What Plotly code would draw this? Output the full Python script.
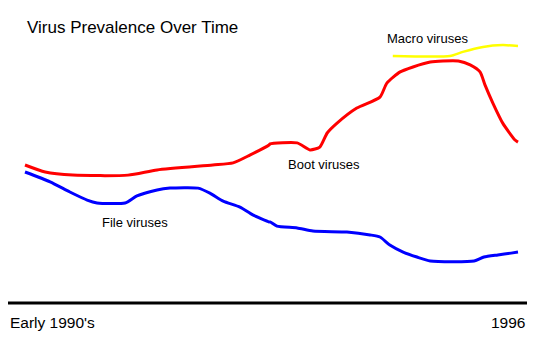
import plotly.graph_objects as go

W, H = 538, 344

# Timeline position (0 = early 1990's, 100 = 1996) and relative prevalence
boot_t = [0, 4.1, 9.7, 20.9, 26.8, 38.1, 42.2, 45.6, 49.5, 49.7, 55.2, 57.8, 59.8, 61.3, 63.3, 67.3, 72.0, 73.4, 76.1, 78.7, 82.2, 84.8, 87.9, 90.3, 92.3, 93.3, 94.9, 96.9, 99.4, 100]
boot_v = [52.7, 50.0, 48.8, 48.8, 50.8, 52.7, 53.5, 56.5, 60.4, 60.8, 61.2, 58.5, 59.6, 65.0, 68.8, 74.6, 78.8, 84.2, 88.5, 90.4, 92.3, 92.7, 92.7, 91.2, 88.5, 83.5, 76.5, 68.8, 62.3, 61.5]

file_t = [0, 5.1, 9.1, 12.6, 14.6, 20.3, 22.7, 26.8, 29.4, 35.1, 37.5, 40.2, 43.6, 46.2, 49.5, 49.7, 51.1, 55.2, 58.4, 65.3, 70.0, 72.0, 74.0, 76.7, 79.5, 82.2, 91.1, 93.1, 95.9, 98.6, 100]
file_v = [50.0, 46.2, 42.3, 39.2, 38.1, 38.1, 40.8, 43.1, 43.8, 43.8, 41.9, 38.8, 36.5, 33.5, 30.8, 30.8, 29.2, 28.5, 27.3, 26.9, 25.8, 25.0, 21.9, 19.2, 17.3, 15.8, 15.8, 17.3, 18.1, 18.8, 19.2]

macro_t = [74.6, 86.2, 88.8, 92.9, 96.9, 100]
macro_v = [94.6, 94.6, 96.2, 98.1, 98.8, 98.5]

title_text = "Virus Prevalence Over Time"
axis_labels = ["Early 1990's", "1996"]
series_names = ["Boot viruses", "File viruses", "Macro viruses"]

# axis mapping: t=0 -> px 25, t=100 -> px 518 ; v=0 -> py 302, scale 2.6 px/unit
x_span = 100 * W / (518 - 25)
x0 = -25 * x_span / W
x_range = [x0, x0 + x_span]
y_range = [(302 - H) / 2.6, 302 / 2.6]


def px(x):
    return x / W


def py(y):
    return 1 - y / H


FONT = "Arial, 'Liberation Sans', sans-serif"

fig = go.Figure()
fig.add_trace(go.Scatter(x=boot_t, y=boot_v, mode="lines", name=series_names[0],
                         line=dict(color="#FF0000", width=3, shape="spline", smoothing=0.6)))
fig.add_trace(go.Scatter(x=file_t, y=file_v, mode="lines", name=series_names[1],
                         line=dict(color="#0000FF", width=3, shape="spline", smoothing=0.6)))
fig.add_trace(go.Scatter(x=macro_t, y=macro_v, mode="lines", name=series_names[2],
                         line=dict(color="#FFFF00", width=2.5, shape="spline", smoothing=0.6)))

ann = []
ann.append(dict(text=title_text, x=px(25), y=py(27), xanchor="left", yanchor="middle",
                font=dict(size=17, color="black", family=FONT)))
ann.append(dict(text=axis_labels[0], x=px(8), y=py(322.5), xanchor="left", yanchor="middle",
                font=dict(size=15.5, color="black", family=FONT)))
ann.append(dict(text=axis_labels[1], x=px(527), y=py(322), xanchor="right", yanchor="middle",
                font=dict(size=15.5, color="black", family=FONT)))
ann.append(dict(text=series_names[0], x=px(286), y=py(164), xanchor="left", yanchor="middle",
                font=dict(size=13, color="black", family=FONT)))
ann.append(dict(text=series_names[1], x=px(100), y=py(222), xanchor="left", yanchor="middle",
                font=dict(size=13, color="black", family=FONT)))
ann.append(dict(text=series_names[2], x=px(385), y=py(39), xanchor="left", yanchor="middle",
                font=dict(size=13, color="black", family=FONT)))
for a in ann:
    a.update(xref="paper", yref="paper", showarrow=False)

fig.update_layout(
    width=W, height=H,
    margin=dict(l=0, r=0, t=0, b=0),
    paper_bgcolor="white", plot_bgcolor="white",
    showlegend=False,
    xaxis=dict(range=x_range, visible=False, fixedrange=True),
    yaxis=dict(range=y_range, visible=False, fixedrange=True),
    annotations=ann,
    shapes=[dict(type="line", xref="paper", yref="paper", x0=px(8), x1=px(527),
                 y0=py(303), y1=py(303), line=dict(color="black", width=3))],
)

fig.write_html("out.html", config={"displayModeBar": False})
